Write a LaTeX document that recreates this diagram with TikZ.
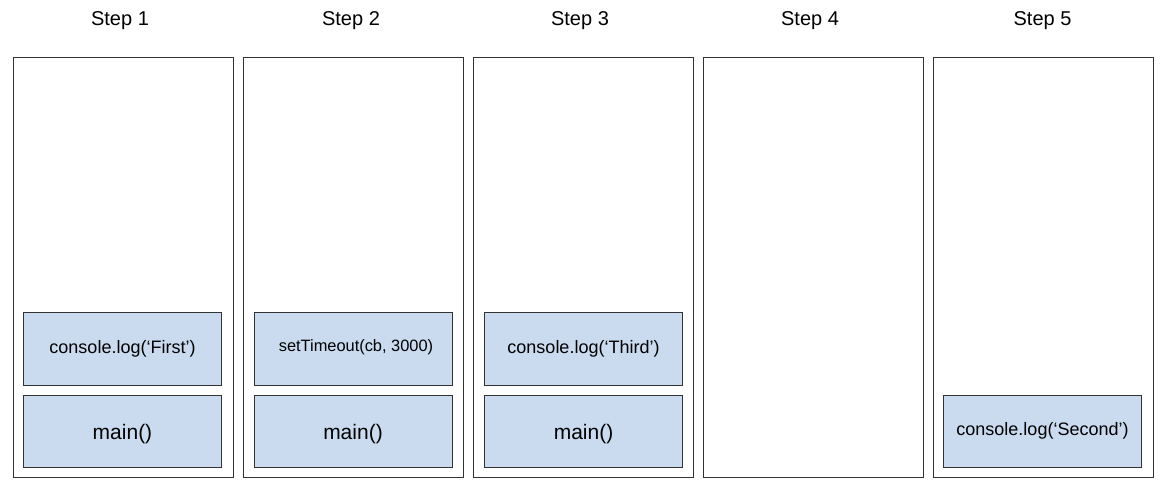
\documentclass[tikz,border=0pt]{standalone}
\usepackage{fontspec}
\setmainfont{Liberation Sans}
\definecolor{framec}{HTML}{333333}
\definecolor{boxfill}{HTML}{CADBEF}
\definecolor{boxdraw}{HTML}{333333}
\begin{document}
\begin{tikzpicture}[x=1pt,y=-1pt,
  frame/.style={draw=framec,line width=1pt,fill=white,rectangle,inner sep=0pt,minimum width=219.5pt,minimum height=420pt,anchor=north west},
  frameb/.style={draw=boxdraw,fill=boxfill,line width=1pt,rectangle,inner sep=0pt,minimum width=198pt,minimum height=72.5pt,anchor=north west},
  title/.style={anchor=base,font=\fontsize{20}{24}\selectfont,inner sep=0pt},
  lbl/.style={font=\fontsize{18}{22}\selectfont},
  lblmain/.style={font=\fontsize{21}{25}\selectfont},
  lblset/.style={font=\fontsize{16.4}{20}\selectfont}]
\useasboundingbox (0,0) rectangle (1166,491);
% titles
\node[title] (t1) at (120,25.5) {Step 1};
\node[title] (t2) at (351,25.5) {Step 2};
\node[title] (t3) at (580,25.5) {Step 3};
\node[title] (t4) at (810,25.5) {Step 4};
\node[title] (t5) at (1042.5,25.5) {Step 5};
% frames
\node[frame] (f1) at (13,57) {};
\node[frame] (f2) at (243,57) {};
\node[frame] (f3) at (473,57) {};
\node[frame] (f4) at (703,57) {};
\node[frame] (f5) at (933,57) {};
% stack boxes
\node[frameb,lbl] (c1) at (23,312) {};
\node[lbl] (c1t) at (c1.center) {console.log(‘First’)};
\node[frameb] (m1) at (23,394.5) {};
\node[lblmain] (m1t) at ([yshift=-3pt]m1.center) {main()};
\node[frameb] (c2) at (253.5,312) {};
\node[lblset] (c2t) at ([xshift=3pt,yshift=2pt]c2.center) {setTimeout(cb, 3000)};
\node[frameb] (m2) at (253.5,394.5) {};
\node[lblmain] (m2t) at ([yshift=-3pt]m2.center) {main()};
\node[frameb] (c3) at (484,312) {};
\node[lbl] (c3t) at (c3.center) {console.log(‘Third’)};
\node[frameb] (m3) at (484,394.5) {};
\node[lblmain] (m3t) at ([yshift=-3pt]m3.center) {main()};
\node[frameb] (c5) at (943,394.5) {};
\node[lbl] (c5t) at (c5.center) {console.log(‘Second’)};
\end{tikzpicture}
\end{document}
